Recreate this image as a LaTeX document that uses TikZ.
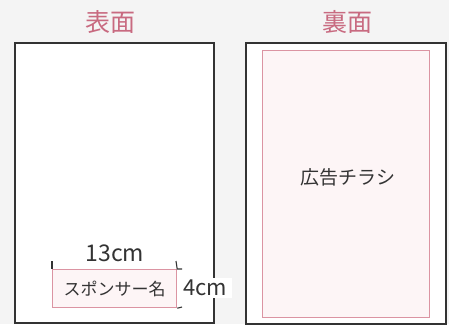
\documentclass[tikz,border=0pt]{standalone}
\usepackage{fontspec}
\setmainfont{Noto Sans CJK JP}
\usetikzlibrary{positioning}
\definecolor{pagebg}{HTML}{F4F4F4}
\definecolor{rose}{HTML}{C86A80}
\definecolor{roseline}{HTML}{DB94A2}
\definecolor{rosefill}{HTML}{FDF5F6}
\definecolor{ink}{HTML}{333333}

\begin{document}
\begin{tikzpicture}[x=1pt,y=-1pt,
    title/.style={text=rose, font=\fontsize{25}{25}\selectfont},
    card/.style={draw=ink, fill=white, line width=1.5pt, anchor=north west},
    adbox/.style={draw=roseline, fill=rosefill, line width=1.2pt, anchor=north west},
    label/.style={text=ink, font=\fontsize{18}{18}\selectfont},
    tick/.style={draw=ink, line width=1.1pt}]
    % background
    \fill[pagebg] (0,0) rectangle (449,324);

    % front side
    \node[card, minimum width=199pt, minimum height=280pt] (front) at (14,42) {};
    \node[title] (fronttitle) at (110,22) {表面};
    \node[adbox, minimum width=124pt, minimum height=38pt] (sponsor) at (52,269) {};
    \node[label, font=\fontsize{17}{17}\selectfont] (sponsortext) at (sponsor.center) {スポンサー名};
    \coordinate (tl) at (52,261);
    \coordinate (tr) at (176,261);
    \coordinate (trh) at (182,269);
    \coordinate (brh) at (182,307);
    \draw[tick] (tl) -- (sponsor.north west);
    \draw[tick] (tr) -- (sponsor.north east) -- (trh);
    \draw[tick] (sponsor.south east) -- (brh);
    \node[label, font=\fontsize{23}{23}\selectfont] (width) at (115,253) {13cm};
    \node[label, fill=white, inner sep=1pt, minimum width=54pt, minimum height=20pt,
          font=\fontsize{22}{22}\selectfont] (height) at (205,288) {4cm};

    % back side
    \node[card, minimum width=200pt, minimum height=281pt] (back) at (245,42) {};
    \node[title] (backtitle) at (347,22) {裏面};
    \node[adbox, minimum width=167pt, minimum height=267pt] (flyer) at (262,50) {};
    \node[label, font=\fontsize{19}{19}\selectfont] (flyertext) at (348,177) {広告チラシ};
\end{tikzpicture}
\end{document}
